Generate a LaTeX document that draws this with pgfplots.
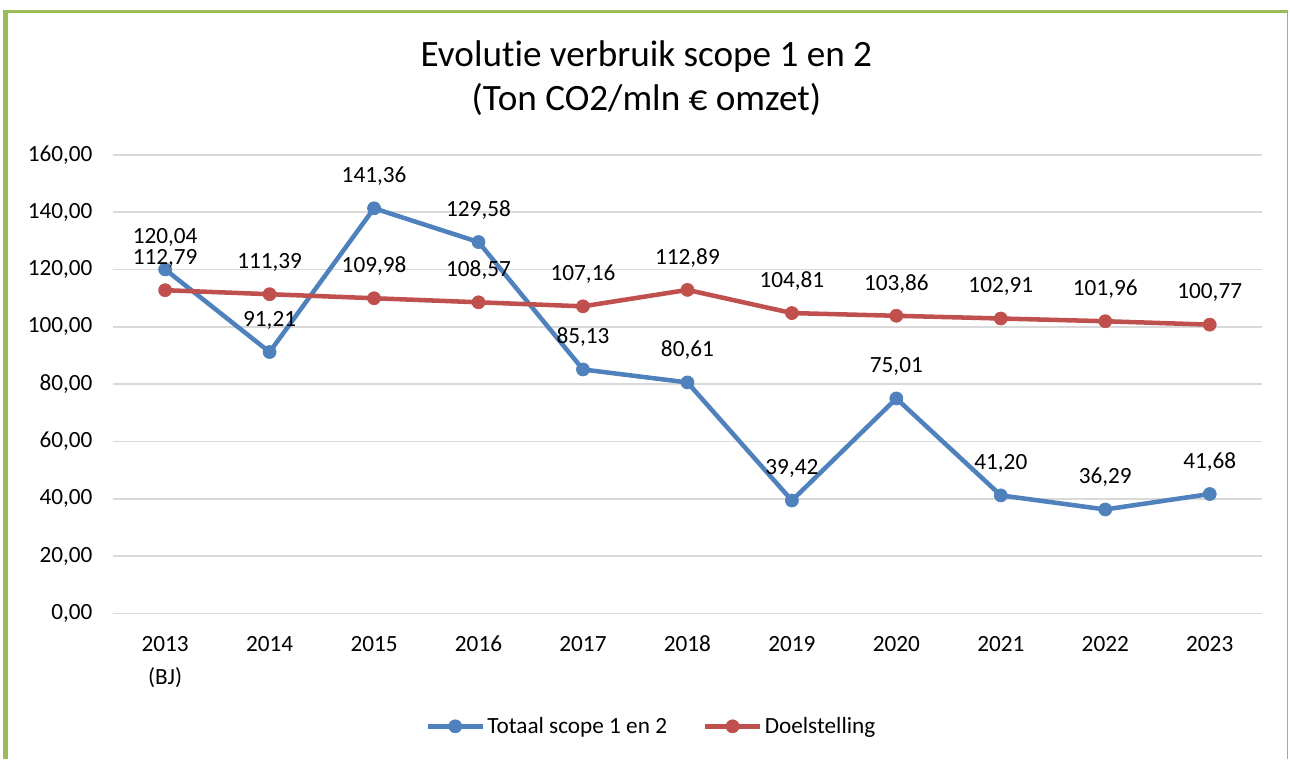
\documentclass[border=0pt]{standalone}
\usepackage{fontspec}
\setmainfont{Carlito}[Ligatures={NoCommon}]
\usepackage{pgfplots}
\pgfplotsset{compat=1.18}
\definecolor{cblue}{HTML}{4F81BD}
\definecolor{cred}{HTML}{C0504D}
\definecolor{cgrid}{HTML}{D9D9D9}
\definecolor{cgreen}{HTML}{9BBB59}
\pgfkeys{/pgf/number format/.cd,fixed,fixed zerofill,precision=2,use comma,assume math mode=true,set thousands separator={}}
\newcommand{\fs}{\fontsize{17.5}{25}\selectfont}
\begin{document}
\begin{tikzpicture}
\begin{axis}[
  at={(0,0)}, anchor=south west,
  scale only axis, width=862.5bp, height=344.25bp,
  xmin=-0.5, xmax=10.5, ymin=0, ymax=160,
  ytick={0,20,...,160},
  xtick={0,...,10},
  xticklabels={{\strut 2013\\(BJ)},\strut 2014,\strut 2015,\strut 2016,\strut 2017,\strut 2018,\strut 2019,\strut 2020,\strut 2021,\strut 2022,\strut 2023},
  xticklabel style={align=center, font=\fs, anchor=north, yshift=-7.2bp},
  yticklabel style={font=\fs, anchor=east, xshift=-11.8bp},
  ymajorgrids, grid style={cgrid, line width=1.1bp},
  axis line style={draw=none},
  major tick length=0pt, tick style={draw=none},
  clip=false,
  title={Evolutie verbruik scope 1 en 2\\(Ton CO2/mln € omzet)},
  title style={at={(0.4643,1.0784)}, anchor=base, align=center, font=\fontsize{28}{33.75}\selectfont},
  nodes near coords,
  every node near coord/.append style={font=\fs, text=black, anchor=center, yshift=24bp},
  legend columns=2,
  legend style={at={(0.469,-0.246)}, anchor=center, draw=none, font=\fs,
    /tikz/every even column/.append style={column sep=25bp}},
  legend cell align=left,
  legend image code/.code={\draw[#1,mark repeat=2,mark phase=2] plot coordinates {(0bp,0bp) (20.5bp,0bp) (41bp,0bp)};},
]
\addplot[color=cblue, line width=3.4bp, mark=*, mark size=4.9bp, mark options={fill=cblue, draw=cblue, line width=0.5bp}]
  coordinates {(0,120.04) (1,91.21) (2,141.36) (3,129.58) (4,85.13) (5,80.61) (6,39.42) (7,75.01) (8,41.20) (9,36.29) (10,41.68)};
\addlegendentry{Totaal scope 1 en 2}
\addplot[color=cred, line width=3.4bp, mark=*, mark size=4.9bp, mark options={fill=cred, draw=cred, line width=0.5bp}]
  coordinates {(0,112.79) (1,111.39) (2,109.98) (3,108.57) (4,107.16) (5,112.89) (6,104.81) (7,103.86) (8,102.91) (9,101.96) (10,100.77)};
\addlegendentry{Doelstelling}
\end{axis}
\draw[cgreen, line width=3.5bp] (-80.5bp,-109.5bp) -- (-80.5bp,453bp);
\draw[cgreen, line width=2.5bp] (-82.25bp,451.7bp) -- (882.3bp,451.7bp);
\draw[cgreen, line width=0.9bp] (881.8bp,452bp) -- (881.8bp,-109.5bp);
\useasboundingbox (-84.75bp,-109.5bp) rectangle (882.75bp,460.5bp);
\end{tikzpicture}
\end{document}
